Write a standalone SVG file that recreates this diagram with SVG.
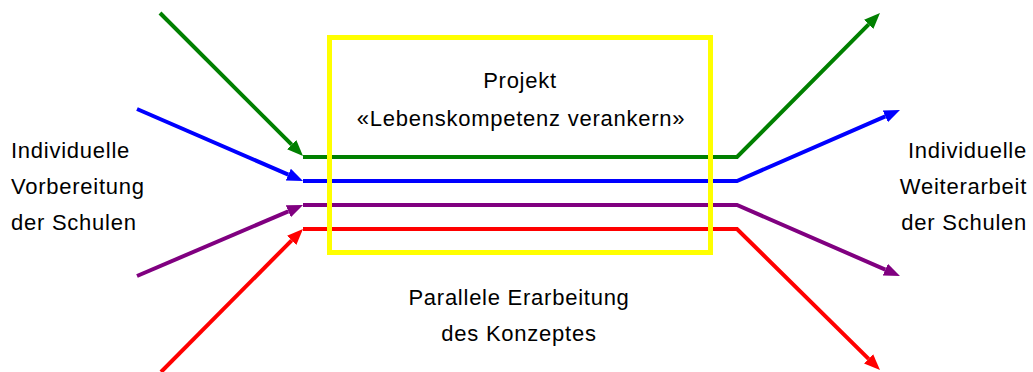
<svg xmlns="http://www.w3.org/2000/svg" width="1033" height="372" viewBox="0 0 1033 372">
<defs>
<style>
.t{font-family:"Liberation Sans",Arial,sans-serif;font-size:22px;letter-spacing:0.75px;fill:#000}
.c{text-anchor:middle}
.e{text-anchor:end}
.ln{fill:none;stroke-width:4;stroke-linejoin:miter}
.g{stroke:#008000}.b{stroke:#0000ff}.p{stroke:#800080}.r{stroke:#ff0000}
</style>
<marker id="ag" markerUnits="userSpaceOnUse" markerWidth="18" markerHeight="16" viewBox="0 -8 18 16" refX="0" refY="0" orient="auto"><path d="M0,-6.5 L16,0 L0,6.5 z" fill="#008000"/></marker>
<marker id="ab" markerUnits="userSpaceOnUse" markerWidth="18" markerHeight="16" viewBox="0 -8 18 16" refX="0" refY="0" orient="auto"><path d="M0,-6.5 L16,0 L0,6.5 z" fill="#0000ff"/></marker>
<marker id="ap" markerUnits="userSpaceOnUse" markerWidth="18" markerHeight="16" viewBox="0 -8 18 16" refX="0" refY="0" orient="auto"><path d="M0,-6.5 L16,0 L0,6.5 z" fill="#800080"/></marker>
<marker id="ar" markerUnits="userSpaceOnUse" markerWidth="18" markerHeight="16" viewBox="0 -8 18 16" refX="0" refY="0" orient="auto"><path d="M0,-6.5 L16,0 L0,6.5 z" fill="#ff0000"/></marker>
</defs>
<rect width="1033" height="372" fill="#fff"/>
<g id="connectors">
<line class="ln g" x1="160" y1="13" x2="291.7" y2="144.7" marker-end="url(#ag)"/>
<line class="ln b" x1="137" y1="109" x2="288.3" y2="174.6" marker-end="url(#ab)"/>
<line class="ln p" x1="137" y1="276" x2="288.3" y2="211.3" marker-end="url(#ap)"/>
<line class="ln r" x1="161" y1="372" x2="291.7" y2="240.3" marker-end="url(#ar)"/>
<polyline class="ln g" points="303,157 737,157 868.7,24.4" marker-end="url(#ag)"/>
<polyline class="ln b" points="303,181 737,181 885.3,116.4" marker-end="url(#ab)"/>
<polyline class="ln p" points="303,205 737,205 885.3,269.6" marker-end="url(#ap)"/>
<polyline class="ln r" points="303,229 737,229 868.6,358.8" marker-end="url(#ar)"/>
</g>
<g id="projekt">
<rect x="329.5" y="37.5" width="381" height="215" fill="none" stroke="#ffff00" stroke-width="5"/>
<text class="t c" x="520" y="88">Projekt</text>
<text class="t c" x="521" y="126">«Lebenskompetenz verankern»</text>
</g>
<g id="vorbereitung">
<text class="t" x="11" y="158">Individuelle</text>
<text class="t" x="11" y="194">Vorbereitung</text>
<text class="t" x="11" y="230">der Schulen</text>
</g>
<g id="weiterarbeit">
<text class="t e" x="1027" y="158">Individuelle</text>
<text class="t e" x="1027" y="194">Weiterarbeit</text>
<text class="t e" x="1027" y="230">der Schulen</text>
</g>
<g id="parallel">
<text class="t c" x="519" y="305">Parallele Erarbeitung</text>
<text class="t c" x="519" y="341">des Konzeptes</text>
</g>
</svg>
